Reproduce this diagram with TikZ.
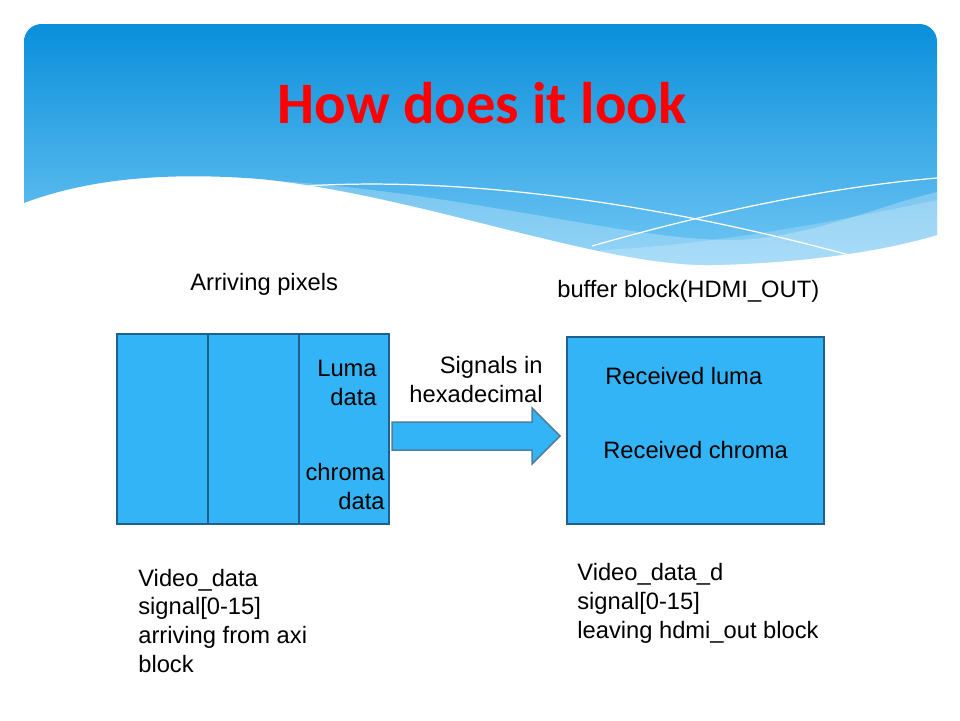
\documentclass[tikz,border=0pt]{standalone}
\usepackage{fontspec}
\setmainfont{Liberation Sans}
\newfontfamily\titlefont{Carlito}
\definecolor{headtop}{HTML}{0A8FDB}
\definecolor{headbot}{HTML}{72C7F4}
\definecolor{boxblue}{HTML}{33B4F6}
\definecolor{boxline}{HTML}{215F8C}
\definecolor{titlered}{HTML}{FF0000}
\newcommand\headshape{(24,203) [rounded corners=10] -- (24,24) -- (937,24) [sharp corners] -- (937,235)
  .. controls (880,252) and (800,263) .. (713,265) .. controls (600,267) and (420,195) .. (260,179)
  .. controls (170,172) and (90,178) .. (24,203) -- cycle}
\begin{document}
\begin{tikzpicture}[x=0.02cm,y=-0.02cm,
  blk/.style={draw=boxline,fill=boxblue,line width=0.85pt},
  txt/.style={font=\fontsize{13.5}{16.5}\selectfont,inner sep=0pt},
  wline/.style={white,line width=0.7pt}]
\useasboundingbox (0,0) rectangle (960,720);
\fill[white] (0,0) rectangle (960,720);
% header with the waves
\shade[top color=headtop,bottom color=headbot] \headshape;
\begin{scope}
  \clip \headshape;
  \fill[white,opacity=0.25] (260,180) .. controls (450,190) and (620,238) .. (723,240)
    .. controls (800,242) and (880,205) .. (937,192) -- (940,300) -- (260,300) -- cycle;
  \fill[white,opacity=0.2] (600,250) .. controls (700,246) and (820,225) .. (937,200) -- (940,300) -- (600,300) -- cycle;
  \draw[wline] (290,187) .. controls (450,175) and (650,200) .. (860,258);
  \draw[wline] (592,246) .. controls (700,215) and (820,188) .. (937,178);
\end{scope}
\node[font=\titlefont\bfseries\fontsize{33.4}{40}\selectfont,text=titlered,inner sep=0pt] (title) at (482,103) {How does it look};

% arriving pixels
\node[txt,anchor=west] (arr) at (190,284) {Arriving pixels};
\node[blk,minimum width=1.82cm,minimum height=3.8cm] (px1) at (162.5,429) {};
\node[blk,minimum width=1.82cm,minimum height=3.8cm] (px2) at (253.5,429) {};
\node[blk,minimum width=1.80cm,minimum height=3.8cm] (px3) at (344,429) {};
\node[txt,anchor=east,align=right] (luma) at (377,383) {Luma\\data};
\node[txt,anchor=east,align=right] (chroma) at (385,487) {chroma\\data};
\node[txt,anchor=west,align=left] (vin) at (138,621) {Video\_data\\signal[0-15]\\arriving from axi\\block};

% arrow
\node[txt,anchor=east,align=right] (hex) at (543,380) {Signals in\\hexadecimal};
\draw[blk,draw=boxline!80] (392,422) -- (532,422) -- (532,408) -- (560,436) -- (532,464) -- (532,450) -- (392,450) -- cycle;

% buffer block
\node[txt,anchor=west] (buf) at (557,291) {buffer block(HDMI\_OUT)};
\node[blk,minimum width=5.14cm,minimum height=3.74cm] (out) at (695.5,430.5) {};
\node[txt,anchor=west] (rl) at (605,376) {Received luma};
\node[txt,anchor=west] (rc) at (603,450) {Received chroma};
\node[txt,anchor=west,align=left] (vout) at (577,603) {Video\_data\_d\\signal[0-15]\\leaving hdmi\_out block};
\end{tikzpicture}
\end{document}
